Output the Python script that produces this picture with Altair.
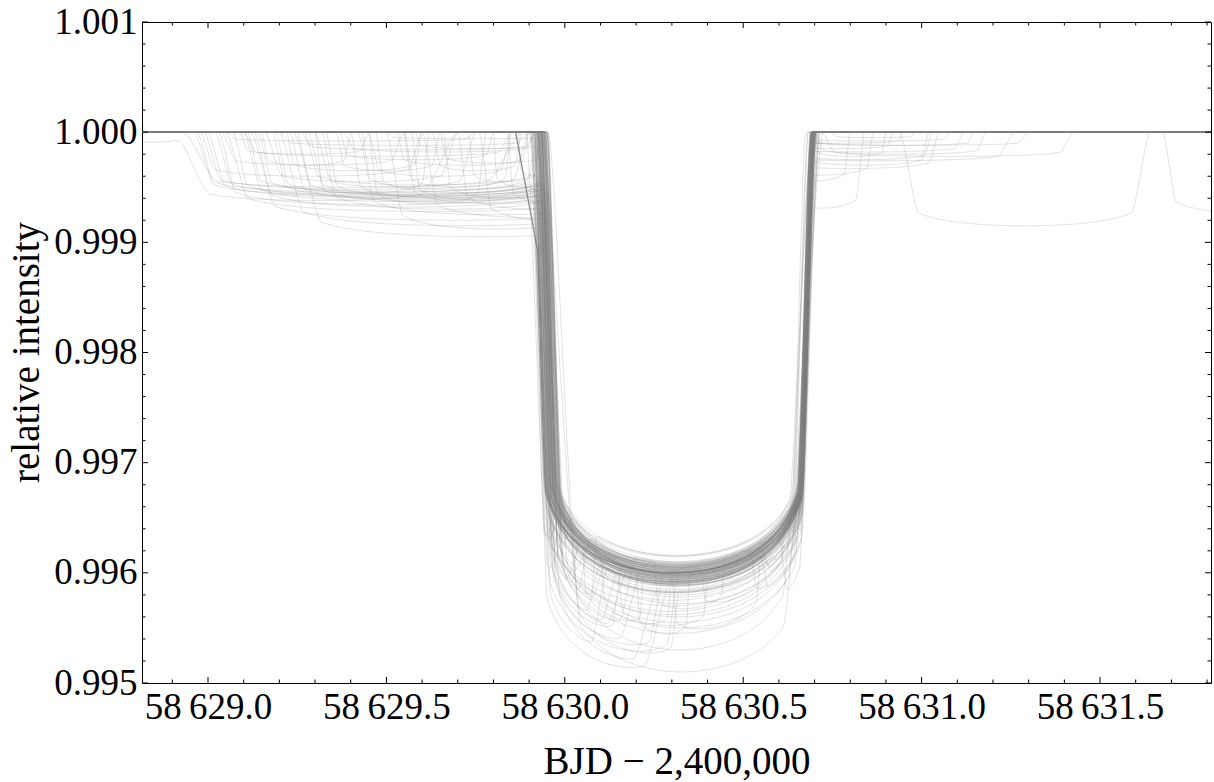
import altair as alt
import numpy as np
import pandas as pd

# ---------------- axis ranges ----------------
T_LO, T_HI = 58628.815, 58631.811
F_LO, F_HI = 0.995, 1.001
W, H = 1069, 661

# ---------------- posterior draws of the main transit ----------------
MAIN_T0 = 58630.314
main_dt = [
    -0.004, 0.007, -0.010, 0.002, 0.011, -0.006, 0.000, 0.005, -0.008, 0.003,
    -0.002, 0.009, -0.011, 0.006, -0.005, 0.001, 0.010, -0.007, 0.004, -0.001,
    0.008, -0.009, 0.003, -0.003, 0.012, -0.012, 0.005, -0.004, 0.000, 0.007,
    -0.006, 0.002, -0.010, 0.009, -0.002, 0.004, -0.008, 0.011, -0.001, 0.006,
    0.001, -0.005, 0.008, -0.009, 0.003, -0.003, 0.010, -0.011, 0.005, -0.007,
    0.000, 0.006, -0.004, 0.009, -0.006, 0.002, -0.010, 0.007, -0.002, 0.004,
    -0.008, 0.011, -0.001, 0.003, -0.005, 0.008, -0.012, 0.001, 0.006, -0.003,
    0.010, -0.007, 0.004, -0.009, 0.002, 0.005, -0.004, 0.012, -0.006, 0.000,
    0.003, -0.002, 0.007, -0.010, 0.009, -0.001, 0.005, -0.008, 0.001, -0.005,
    0.006, -0.011, 0.002, 0.008, -0.003, 0.010, -0.006, 0.004, -0.009, 0.001,
    -0.004, 0.007, -0.002, 0.003, -0.007, 0.009, 0.000, -0.010, 0.005, -0.001,
    -0.010, -0.015, -0.005, 0.008, 0.015, 0.010, -0.012, 0.004, -0.008, 0.012,
    -0.003, 0.006, -0.018, 0.009, 0.002, -0.006, 0.011, -0.009, 0.000, 0.007,
]
main_dur = [
    0.766, 0.752, 0.778, 0.760, 0.740, 0.771, 0.763, 0.757, 0.782, 0.768,
    0.774, 0.750, 0.792, 0.759, 0.769, 0.762, 0.755, 0.779, 0.765, 0.772,
    0.756, 0.781, 0.764, 0.770, 0.738, 0.790, 0.761, 0.775, 0.767, 0.753,
    0.773, 0.760, 0.780, 0.754, 0.768, 0.764, 0.777, 0.742, 0.770, 0.758,
    0.763, 0.775, 0.744, 0.783, 0.766, 0.771, 0.757, 0.779, 0.760, 0.774,
    0.768, 0.756, 0.772, 0.762, 0.780, 0.765, 0.776, 0.753, 0.769, 0.761,
    0.777, 0.750, 0.767, 0.773, 0.759, 0.764, 0.792, 0.766, 0.755, 0.771,
    0.754, 0.778, 0.762, 0.788, 0.768, 0.758, 0.770, 0.752, 0.775, 0.765,
    0.769, 0.763, 0.757, 0.776, 0.741, 0.772, 0.766, 0.782, 0.761, 0.774,
    0.760, 0.779, 0.765, 0.753, 0.771, 0.756, 0.768, 0.767, 0.780, 0.763,
    0.772, 0.758, 0.776, 0.764, 0.770, 0.744, 0.774, 0.769, 0.759, 0.777,
    0.800, 0.815, 0.730, 0.745, 0.790, 0.740, 0.795, 0.785, 0.750, 0.780,
    0.805, 0.735, 0.790, 0.760, 0.782, 0.748, 0.776, 0.792, 0.788, 0.742,
]
main_depth = [
    0.00400, 0.00392, 0.00408, 0.00397, 0.00404, 0.00385, 0.00411, 0.00401, 0.00395, 0.00406,
    0.00398, 0.00417, 0.00393, 0.00402, 0.00409, 0.00396, 0.00403, 0.00390, 0.00407, 0.00400,
    0.00394, 0.00405, 0.00399, 0.00412, 0.00391, 0.00402, 0.00397, 0.00408, 0.00401, 0.00395,
    0.00410, 0.00399, 0.00393, 0.00404, 0.00400, 0.00418, 0.00396, 0.00402, 0.00384, 0.00406,
    0.00401, 0.00397, 0.00409, 0.00392, 0.00403, 0.00399, 0.00411, 0.00395, 0.00405, 0.00400,
    0.00396, 0.00407, 0.00402, 0.00390, 0.00404, 0.00398, 0.00418, 0.00400, 0.00394, 0.00408,
    0.00403, 0.00393, 0.00406, 0.00399, 0.00410, 0.00401, 0.00391, 0.00405, 0.00397, 0.00416,
    0.00399, 0.00404, 0.00395, 0.00408, 0.00400, 0.00392, 0.00406, 0.00402, 0.00410, 0.00396,
    0.00405, 0.00398, 0.00411, 0.00394, 0.00402, 0.00407, 0.00385, 0.00403, 0.00400, 0.00409,
    0.00397, 0.00417, 0.00401, 0.00393, 0.00406, 0.00399, 0.00404, 0.00396, 0.00408, 0.00402,
    0.00400, 0.00395, 0.00409, 0.00403, 0.00391, 0.00405, 0.00398, 0.00410, 0.00401, 0.00394,
    0.00412, 0.00430, 0.00395, 0.00420, 0.00490, 0.00470, 0.00425, 0.00440, 0.00415, 0.00450,
    0.00418, 0.00408, 0.00435, 0.00422, 0.00445, 0.00410, 0.00428, 0.00438, 0.00455, 0.00412,
]
main_b = [
    0.30, 0.25, 0.35, 0.20, 0.40, 0.28, 0.33, 0.22, 0.38, 0.30,
    0.27, 0.36, 0.18, 0.42, 0.31, 0.24, 0.34, 0.29, 0.39, 0.21,
    0.32, 0.26, 0.37, 0.23, 0.41, 0.30, 0.19, 0.35, 0.28, 0.33,
    0.25, 0.38, 0.22, 0.30, 0.36, 0.27, 0.40, 0.24, 0.31, 0.34,
    0.29, 0.20, 0.37, 0.26, 0.33, 0.43, 0.28, 0.23, 0.35, 0.30,
    0.32, 0.25, 0.39, 0.21, 0.36, 0.27, 0.30, 0.34, 0.24, 0.38,
    0.28, 0.33, 0.26, 0.31, 0.22, 0.37, 0.29, 0.35, 0.25, 0.32,
    0.36, 0.21, 0.30, 0.40, 0.27, 0.34, 0.23, 0.38, 0.29, 0.31,
    0.24, 0.35, 0.28, 0.19, 0.33, 0.26, 0.41, 0.30, 0.37, 0.22,
    0.34, 0.29, 0.25, 0.38, 0.31, 0.20, 0.36, 0.27, 0.32, 0.40,
    0.26, 0.33, 0.30, 0.23, 0.39, 0.28, 0.35, 0.21, 0.37, 0.31,
    0.45, 0.60, 0.30, 0.55, 0.85, 0.80, 0.65, 0.70, 0.50, 0.75,
    0.60, 0.40, 0.70, 0.55, 0.72, 0.45, 0.62, 0.68, 0.78, 0.50,
]

# reference model, drawn darker on a time sampling with a gap
best_t0, best_dur, best_depth, best_b = 58630.300, 0.780, 0.00400, 0.30
gap_start, gap_end = 58629.862, 58629.924

# ---------------- second-planet transits attached to individual draws ----------------
comp_sample = [
    0, 0, 1, 2, 3, 4, 5, 6, 7, 8, 9, 10, 11, 12, 13, 14, 15, 16, 17, 18,
    19, 20, 21, 22, 23, 24, 25, 26, 27, 28, 29, 30, 31, 32, 33, 34, 35, 36, 37, 38,
    39, 40, 41, 42, 43, 44, 45, 46, 47,
    48, 49, 50, 51, 52, 53, 54, 55, 56, 57, 58, 59, 60, 61,
    62, 63, 64, 65, 66, 67, 68, 69,
    70, 71, 72, 73, 74, 75, 76, 77, 78, 79, 80, 81, 82, 83, 84,
    85, 86, 87, 88, 89,
]
comp_start = [
    58628.300, 58628.905, 58628.960, 58628.970, 58628.980, 58629.000, 58629.020, 58629.040,
    58629.050, 58629.070, 58629.090, 58629.100, 58629.120, 58629.140, 58629.160, 58629.180,
    58629.200, 58629.220, 58629.250, 58629.280, 58629.300, 58629.320, 58629.240, 58629.370,
    58629.400, 58629.420, 58629.450, 58629.470, 58629.500, 58629.530, 58629.550, 58629.580,
    58629.600, 58629.630, 58629.660, 58629.700, 58629.730, 58629.760, 58629.800, 58629.840,
    58629.870, 58629.050, 58629.200, 58629.380, 58629.500, 58629.300, 58629.450, 58629.550,
    58629.150,
    58630.550, 58630.620, 58630.660, 58630.550, 58630.700, 58630.500, 58630.680, 58630.720,
    58630.580, 58630.750, 58630.939, 58631.676, 58630.600, 58630.520,
    58630.050, 58630.100, 58630.150, 58630.200, 58630.250, 58630.300, 58630.380, 58630.020,
    58628.990, 58629.030, 58629.110, 58629.130, 58629.190, 58629.230, 58629.270, 58629.330,
    58629.360, 58629.430, 58629.570, 58629.650, 58629.100, 58629.260, 58628.930,
    58630.600, 58630.650, 58630.700, 58630.550, 58630.680,
]
comp_end = [
    58628.930, 58629.700, 58630.080, 58629.950, 58629.600, 58630.120, 58629.970, 58629.550,
    58630.180, 58629.990, 58629.450, 58630.050, 58630.260, 58629.980, 58629.700, 58630.100,
    58630.220, 58629.600, 58629.990, 58630.150, 58629.750, 58630.020, 58630.300, 58629.800,
    58629.950, 58630.200, 58629.850, 58629.970, 58630.120, 58629.900, 58630.070, 58629.950,
    58630.280, 58629.880, 58630.040, 58630.160, 58629.930, 58630.320, 58629.980, 58630.090,
    58629.990, 58629.750, 58629.900, 58629.920, 58629.980, 58629.620, 58629.780, 58629.850,
    58629.400,
    58630.865, 58631.030, 58631.020, 58631.120, 58631.180, 58631.260, 58631.300, 58631.425,
    58630.950, 58630.980, 58631.640, 58632.300, 58630.840, 58630.800,
    58630.220, 58630.300, 58630.400, 58630.350, 58630.450, 58630.550, 58630.620, 58630.320,
    58629.900, 58629.960, 58629.930, 58630.000, 58629.960, 58629.980, 58629.940, 58629.990,
    58629.650, 58629.970, 58629.990, 58629.950, 58629.850, 58629.920, 58629.880,
    58630.920, 58631.080, 58630.900, 58631.050, 58631.150,
]
comp_depth = [
    0.00010, 0.00062, 0.00058, 0.00055, 0.00040, 0.00060, 0.00057, 0.00030,
    0.00072, 0.00059, 0.00020, 0.00063, 0.00080, 0.00056, 0.00045, 0.00061,
    0.00085, 0.00035, 0.00058, 0.00064, 0.00050, 0.00070, 0.00095, 0.00025,
    0.00060, 0.00075, 0.00040, 0.00055, 0.00088, 0.00030, 0.00065, 0.00015,
    0.00078, 0.00035, 0.00060, 0.00070, 0.00045, 0.00082, 0.00050, 0.00065,
    0.00040, 0.00008, 0.00012, 0.00018, 0.00006, 0.00055, 0.00065, 0.00050,
    0.00030,
    0.00039, 0.00025, 0.00030, 0.00018, 0.00020, 0.00026, 0.00012, 0.00022,
    0.00010, 0.00005, 0.00085, 0.00075, 0.00069, 0.00045,
    0.00045, 0.00050, 0.00038, 0.00055, 0.00042, 0.00048, 0.00035, 0.00060,
    0.00052, 0.00066, 0.00054, 0.00068, 0.00057, 0.00062, 0.00048, 0.00059,
    0.00035, 0.00052, 0.00062, 0.00028, 0.00022, 0.00016, 0.00050,
    0.00015, 0.00008, 0.00022, 0.00033, 0.00012,
]
comp_b = [
    0.30, 0.85, 0.50, 0.40, 0.60, 0.30, 0.45, 0.70, 0.55, 0.35, 0.60, 0.50, 0.60, 0.40,
    0.75, 0.30, 0.65, 0.50, 0.45, 0.55, 0.80, 0.50, 0.70, 0.40, 0.50, 0.60, 0.70, 0.35,
    0.70, 0.50, 0.60, 0.30, 0.65, 0.75, 0.50, 0.60, 0.70, 0.60, 0.50, 0.60, 0.50, 0.30,
    0.40, 0.50, 0.30, 0.60, 0.70, 0.60, 0.70,
    0.60, 0.50, 0.55, 0.40, 0.50, 0.60, 0.40, 0.50, 0.30, 0.30, 0.70, 0.60, 0.80, 0.60,
    0.50, 0.60, 0.40, 0.60, 0.50, 0.50, 0.60, 0.70,
    0.45, 0.50, 0.40, 0.55, 0.35, 0.50, 0.60, 0.45, 0.70, 0.40, 0.55, 0.60, 0.40, 0.40, 0.80,
    0.40, 0.30, 0.50, 0.60, 0.40,
]

# ---------------- tick positions ----------------
x_major = [58629.0, 58629.5, 58630.0, 58630.5, 58631.0, 58631.5]
x_minor = [58628.9, 58629.1, 58629.2, 58629.3, 58629.4, 58629.6, 58629.7, 58629.8,
           58629.9, 58630.1, 58630.2, 58630.3, 58630.4, 58630.6, 58630.7, 58630.8,
           58630.9, 58631.1, 58631.2, 58631.3, 58631.4, 58631.6, 58631.7, 58631.8]
y_major = [0.995, 0.996, 0.997, 0.998, 0.999, 1.000, 1.001]
y_minor = [0.9952, 0.9954, 0.9956, 0.9958, 0.9962, 0.9964, 0.9966, 0.9968,
           0.9972, 0.9974, 0.9976, 0.9978, 0.9982, 0.9984, 0.9986, 0.9988,
           0.9992, 0.9994, 0.9996, 0.9998, 1.0002, 1.0004, 1.0006, 1.0008]

# ---------------- transit light-curve model ----------------
U1, U2 = 0.2, 0.1
P_MAIN, P_COMP = 0.045, 0.04


def limb(mu):
    return 1.0 - U1 * (1.0 - mu) - U2 * (1.0 - mu) ** 2


def covered_fraction(r, p):
    frac = np.zeros_like(r)
    frac[r <= 1 - p] = 1.0
    part = (r > 1 - p) & (r < 1 + p)
    rr = r[part]
    k0 = np.arccos(np.clip((p * p + rr * rr - 1) / (2 * p * rr), -1, 1))
    k1 = np.arccos(np.clip((1 - p * p + rr * rr) / (2 * rr), -1, 1))
    area = p * p * k0 + k1 - 0.5 * np.sqrt(np.clip(4 * rr * rr - (1 + rr * rr - p * p) ** 2, 0, None))
    frac[part] = area / (np.pi * p * p)
    return frac


def dip(t, t0, dur, depth, b, p):
    s1 = np.sqrt((1 + p) ** 2 - b ** 2)
    s = (t - t0) / (dur / 2.0) * s1
    r = np.sqrt(b * b + s * s)
    frac = covered_fraction(r, p)
    r_eff = np.where(r > 1 - p, np.minimum((r - p + 1) / 2, 1.0), r)
    mu = np.sqrt(np.clip(1 - r_eff ** 2, 0, 1))
    return depth * frac * limb(mu) / limb(np.sqrt(1 - b * b))


def simplify(t, f, tol=0.1):
    """Drop points that are collinear to within tol pixels."""
    x = (t - T_LO) / (T_HI - T_LO) * W
    y = (F_HI - f) / (F_HI - F_LO) * H
    keep = np.zeros(len(x), bool)
    keep[0] = keep[-1] = True
    stack = [(0, len(x) - 1)]
    while stack:
        i, j = stack.pop()
        if j <= i + 1:
            continue
        dx, dy = x[j] - x[i], y[j] - y[i]
        d = np.abs(dy * (x[i + 1:j] - x[i]) - dx * (y[i + 1:j] - y[i])) / max(np.hypot(dx, dy), 1e-9)
        k = int(np.argmax(d))
        if d[k] > tol:
            m = i + 1 + k
            keep[m] = True
            stack.append((i, m))
            stack.append((m, j))
    return t[keep], f[keep]


grid = np.round(np.arange(T_LO - 0.004, T_HI + 0.004, 0.002), 6)

rows = []
for i in range(len(main_dt)):
    flux = 1.0 - dip(grid, MAIN_T0 + main_dt[i], main_dur[i], main_depth[i], main_b[i], P_MAIN)
    for k, s in enumerate(comp_sample):
        if s == i:
            c_t0 = 0.5 * (comp_start[k] + comp_end[k])
            c_dur = comp_end[k] - comp_start[k]
            flux = flux - dip(grid, c_t0, c_dur, comp_depth[k], comp_b[k], P_COMP)
    ts, fs = simplify(grid, flux)
    rows += [{"sample": i, "t": round(float(a), 5), "flux": round(float(b), 7)} for a, b in zip(ts, fs)]
draws = pd.DataFrame(rows)

best_grid = np.unique(np.concatenate([grid[(grid <= gap_start) | (grid >= gap_end)], [gap_start, gap_end]]))
best_flux = 1.0 - dip(best_grid, best_t0, best_dur, best_depth, best_b, P_MAIN)
bt, bf = simplify(best_grid, best_flux)
best = pd.DataFrame({"t": np.round(bt, 5), "flux": np.round(bf, 7)})

# ---------------- chart ----------------
xs = alt.Scale(domain=[T_LO, T_HI], nice=False, zero=False)
ys = alt.Scale(domain=[F_LO, F_HI], nice=False, zero=False)
FONT = "Liberation Serif"

x_axis = alt.Axis(
    values=x_major,
    labelExpr="replace(format(datum.value, ',.1f'), ',', '\u2009')",
    title="BJD \u2212 2,400,000",
    labelPadding=35, labelBaseline="alphabetic", labelFlush=False, labelOverlap=False,
    titleY=90, titleBaseline="alphabetic",
)
y_axis = alt.Axis(
    values=y_major, format=".3f", title="relative intensity",
    labelPadding=5, labelOverlap=False,
    titleX=-104, titleY=330, titleAngle=270, titleBaseline="alphabetic", titleAlign="center",
)

curves = alt.Chart(draws).mark_line(color="#808080", opacity=0.22, strokeWidth=1, clip=True).encode(
    x=alt.X("t:Q", scale=xs, axis=x_axis),
    y=alt.Y("flux:Q", scale=ys, axis=y_axis),
    detail="sample:N",
)

best_line = alt.Chart(best).mark_line(color="#808080", opacity=0.9, strokeWidth=1.3, clip=True).encode(
    x=alt.X("t:Q", scale=xs),
    y=alt.Y("flux:Q", scale=ys),
)


def x_ticks(vals, length):
    src = alt.Chart(pd.DataFrame({"t": vals}))
    bottom = src.mark_rule(color="black", strokeWidth=1).encode(
        x=alt.X("t:Q", scale=xs), y=alt.value(H), y2=alt.value(H - length))
    top = src.mark_rule(color="black", strokeWidth=1).encode(
        x=alt.X("t:Q", scale=xs), y=alt.value(0), y2=alt.value(length))
    return [bottom, top]


def y_ticks(vals, length):
    src = alt.Chart(pd.DataFrame({"flux": vals}))
    left = src.mark_rule(color="black", strokeWidth=1).encode(
        y=alt.Y("flux:Q", scale=ys), x=alt.value(0), x2=alt.value(length))
    right = src.mark_rule(color="black", strokeWidth=1).encode(
        y=alt.Y("flux:Q", scale=ys), x=alt.value(W), x2=alt.value(W - length))
    return [left, right]


layers = [curves, best_line] + x_ticks(x_major, 6) + x_ticks(x_minor, 3.5) \
    + y_ticks(y_major, 6) + y_ticks(y_minor, 3.5)

chart = alt.layer(*layers).properties(
    width=W, height=H,
    autosize=alt.AutoSizeParams(type="none"),
    padding={"left": 142, "top": 22, "right": 3, "bottom": 99},
).configure_view(
    stroke="black", strokeWidth=1,
).configure_axis(
    labelFont=FONT, titleFont=FONT, labelFontSize=37, titleFontSize=39,
    labelColor="black", titleColor="black", titleFontWeight="normal",
    ticks=False, domain=False, grid=False,
)

chart.save("out.html", embed_options={"renderer": "svg", "actions": False})
